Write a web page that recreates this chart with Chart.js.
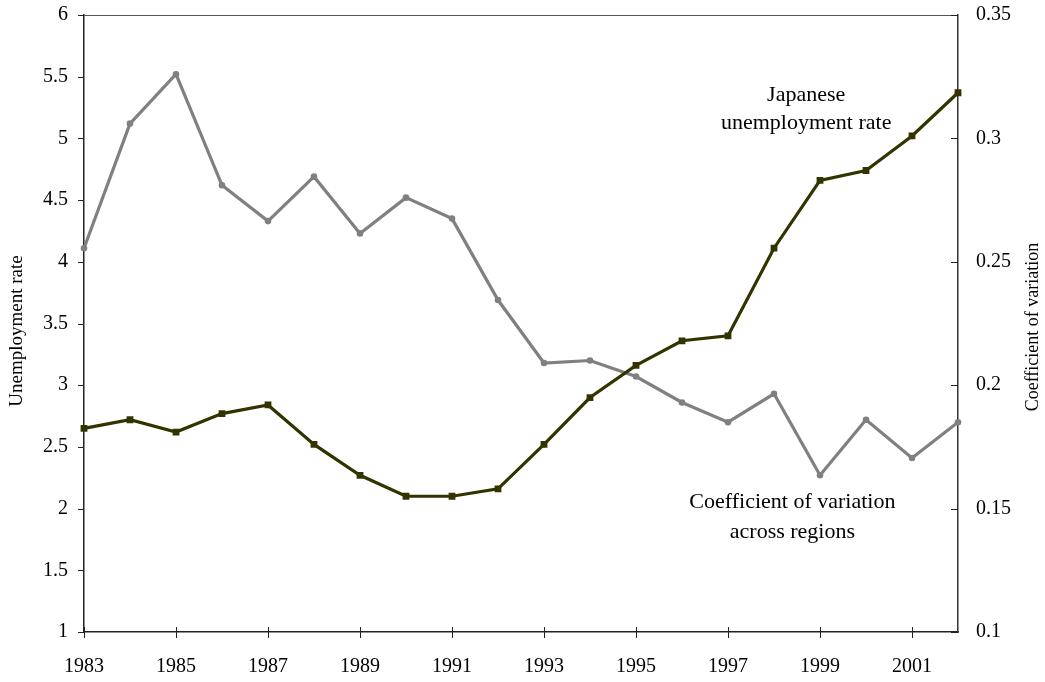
<!DOCTYPE html>
<html>
<head>
<meta charset="utf-8">
<script src="https://cdn.jsdelivr.net/npm/chart.js@4/dist/chart.umd.min.js"></script>
<style>
  html, body { margin: 0; padding: 0; background: #fff; }
  #wrap { width: 1045px; height: 682px; }
</style>
</head>
<body>
<div id="wrap"><canvas id="c" width="1045" height="682"></canvas></div>
<script>
const years = [1983,1984,1985,1986,1987,1988,1989,1990,1991,1992,1993,1994,1995,1996,1997,1998,1999,2000,2001,2002];
const unemploymentRate = [2.65,2.72,2.62,2.77,2.84,2.52,2.27,2.10,2.10,2.16,2.52,2.90,3.16,3.36,3.40,4.11,4.66,4.74,5.02,5.37];
const coefVariation = [0.2555,0.306,0.326,0.281,0.2665,0.2845,0.2615,0.276,0.2675,0.2345,0.209,0.210,0.2035,0.193,0.185,0.1965,0.1635,0.186,0.1705,0.185];
const xTickLabels = ['1983','1985','1987','1989','1991','1993','1995','1997','1999','2001'];
const leftTitle = 'Unemployment rate';
const rightTitle = 'Coefficient of variation';
const noteUnemp = ['Japanese', 'unemployment rate'];
const noteCv = ['Coefficient of variation', 'across regions'];

const FONT = '"Liberation Serif", "Times New Roman", serif';
const labels = years.map(String);

const decor = {
  id: 'decor',
  afterDraw(chart) {
    const ctx = chart.ctx;
    const a = chart.chartArea;
    const x = chart.scales.x, yl = chart.scales.y, yr = chart.scales.y2;
    ctx.save();
    // top frame line
    ctx.strokeStyle = '#555';
    ctx.lineWidth = 1;
    ctx.beginPath();
    ctx.moveTo(a.left, a.top + 0.5);
    ctx.lineTo(a.right, a.top + 0.5);
    ctx.stroke();
    // tick marks
    ctx.strokeStyle = '#222';
    ctx.lineWidth = 1;
    ctx.beginPath();
    years.forEach((yr0, i) => {
      if (xTickLabels.includes(String(yr0))) {
        const px = Math.round(x.getPixelForValue(i)) + 0.5;
        ctx.moveTo(px, a.bottom - 5);
        ctx.lineTo(px, a.bottom + 6);
      }
    });
    yl.ticks.forEach(t => {
      const py = Math.round(yl.getPixelForValue(t.value)) + 0.5;
      ctx.moveTo(a.left - 6, py);
      ctx.lineTo(a.left, py);
    });
    yr.ticks.forEach(t => {
      const py = Math.round(yr.getPixelForValue(t.value)) + 0.5;
      ctx.moveTo(a.right - 7, py);
      ctx.lineTo(a.right, py);
    });
    ctx.stroke();
    // axis titles
    ctx.fillStyle = '#000';
    ctx.textAlign = 'center';
    ctx.textBaseline = 'middle';
    ctx.save();
    ctx.font = '19px ' + FONT;
    ctx.translate(17, 331);
    ctx.rotate(-Math.PI / 2);
    ctx.fillText(leftTitle, 0, 0);
    ctx.restore();
    ctx.save();
    ctx.font = '18px ' + FONT;
    ctx.translate(1033, 327);
    ctx.rotate(-Math.PI / 2);
    ctx.fillText(rightTitle, 0, 0);
    ctx.restore();
    // annotations
    ctx.font = '22px ' + FONT;
    const ax1 = x.getPixelForValue(15.7);
    ctx.fillText(noteUnemp[0], ax1, yl.getPixelForValue(5.35));
    ctx.fillText(noteUnemp[1], ax1, yl.getPixelForValue(5.12));
    const ax2 = x.getPixelForValue(15.4);
    ctx.fillText(noteCv[0], ax2, yl.getPixelForValue(2.05));
    ctx.fillText(noteCv[1], ax2, yl.getPixelForValue(1.81));
    ctx.restore();
  }
};

function fixVertical(w) {
  return s => { s.width = w; s.paddingTop = 15; s.paddingBottom = 0; };
}

new Chart(document.getElementById('c'), {
  type: 'line',
  data: {
    labels: labels,
    datasets: [
      {
        label: 'Japanese unemployment rate',
        data: unemploymentRate,
        yAxisID: 'y',
        borderColor: '#333300',
        backgroundColor: '#333300',
        borderWidth: 3.2,
        pointStyle: 'rect',
        pointRadius: 4.8,
        pointBorderWidth: 0,
        tension: 0
      },
      {
        label: 'Coefficient of variation across regions',
        data: coefVariation,
        yAxisID: 'y2',
        borderColor: '#808080',
        backgroundColor: '#808080',
        borderWidth: 3.2,
        pointStyle: 'circle',
        pointRadius: 3.3,
        pointBorderWidth: 0,
        tension: 0
      }
    ]
  },
  options: {
    responsive: false,
    animation: false,
    devicePixelRatio: 1,
    layout: { padding: { top: 0, left: 0, right: 0, bottom: 0 } },
    plugins: { legend: { display: false }, tooltip: { enabled: false } },
    scales: {
      x: {
        type: 'category',
        offset: false,
        grid: { display: false, drawTicks: false },
        border: { display: true, color: '#222', width: 1.5 },
        ticks: {
          autoSkip: false,
          maxRotation: 0,
          padding: 23,
          color: '#000',
          font: { family: FONT, size: 20 },
          callback: function (v, i) {
            const l = labels[i];
            return xTickLabels.includes(l) ? l : null;
          }
        },
        afterFit: s => { s.height = 682 - 632; s.paddingLeft = 0; s.paddingRight = 0; }
      },
      y: {
        position: 'left',
        min: 1, max: 6,
        grid: { display: false, drawTicks: false },
        border: { display: true, color: '#222', width: 1.5 },
        ticks: {
          stepSize: 0.5,
          padding: 16,
          color: '#000',
          font: { family: FONT, size: 20 },
          callback: v => String(parseFloat(v.toFixed(2)))
        },
        afterFit: fixVertical(84)
      },
      y2: {
        position: 'right',
        min: 0.1, max: 0.35,
        grid: { display: false, drawTicks: false },
        border: { display: true, color: '#333', width: 1.5 },
        ticks: {
          stepSize: 0.05,
          padding: 18,
          color: '#000',
          font: { family: FONT, size: 20 },
          callback: v => String(parseFloat(v.toFixed(2)))
        },
        afterFit: fixVertical(1045 - 958)
      }
    }
  },
  plugins: [decor]
});
</script>
</body>
</html>
